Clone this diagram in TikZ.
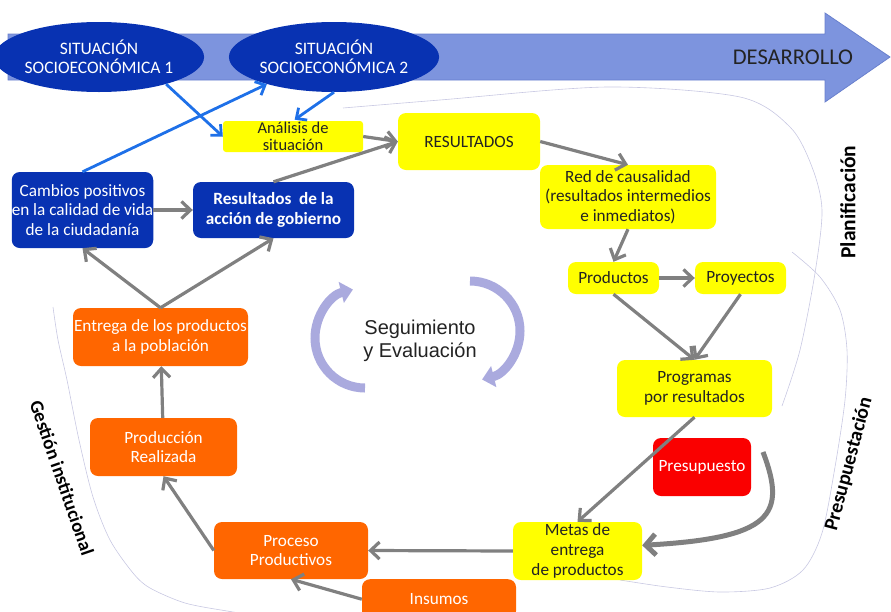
\documentclass[tikz,border=0pt]{standalone}
\usepackage{fontspec}
\setmainfont{Carlito}
\newfontfamily\arialfont{Liberation Sans}
\usepackage{tikz}
\usetikzlibrary{arrows.meta,shapes.geometric}
\definecolor{darkblue}{RGB}{8,50,178}
\definecolor{arrowblue}{RGB}{30,112,232}
\definecolor{arrowgray}{RGB}{128,128,128}
\definecolor{boxyellow}{RGB}{255,255,0}
\definecolor{boxorange}{RGB}{255,102,0}
\definecolor{boxred}{RGB}{250,0,0}
\definecolor{devblue}{RGB}{125,148,222}
\definecolor{devedge}{RGB}{105,128,205}
\definecolor{textgray}{RGB}{35,35,35}
\definecolor{cyclelav}{RGB}{170,170,222}
\definecolor{guidelav}{RGB}{200,200,226}

\begin{document}
\begin{tikzpicture}[x=1pt,y=-1pt,
    >={Straight Barb[length=9pt,width=17pt]},
    sz/.style 2 args={minimum width=#1pt, minimum height=#2pt},
    box/.style={rounded corners=8pt, align=center, inner sep=0pt,
      font=\fontsize{17.2}{19.5}\selectfont},
    yellowbox/.style={box, fill=boxyellow, text=textgray},
    orangebox/.style={box, fill=boxorange, text=white},
    bluebox/.style={box, fill=darkblue, text=white},
    situ/.style={ellipse, fill=darkblue, text=white, sz={182}{70},
      inner sep=0pt, align=center, font=\fontsize{17.5}{19}\selectfont},
    flow/.style={->, draw=arrowgray, line width=3.2pt},
    blueflow/.style={->, draw=arrowblue, line width=2.8pt,
      >={Straight Barb[length=8pt,width=15pt]}},
    guide/.style={draw=guidelav, line width=0.6pt},
    cyclearrow/.style={draw=cyclelav, line width=9pt,
      -{Triangle[length=12pt,width=21pt]}},
    phase/.style={font=\fontsize{19}{21}\selectfont\bfseries, text=black}]
  \useasboundingbox (0,0) rectangle (891,611);

  % thin phase outlines
  \draw[guide] plot[smooth] coordinates {(343,108) (440,100) (607,87)
    (740,97) (790,127) (812,167) (822,210) (815,273) (800,350) (782,406)};
  \draw[guide] plot[smooth] coordinates {(792,252) (820,277) (840,310)
    (847,350) (845,400) (835,467) (822,533) (803,570) (770,588) (720,592)
    (667,587) (620,580)};
  \draw[guide] plot[smooth] coordinates {(53,307) (58,340) (67,380)
    (79,440) (93,497) (110,540) (133,573) (150,588) (185,603) (227,611)
    (260,616)};

  % development arrow
  \draw[fill=devblue, draw=devedge, line width=0.8pt] (8,34) -- (825,34)
    -- (825,13) -- (890,57) -- (825,102) -- (825,80) -- (8,80) -- cycle;
  \node[font=\fontsize{22.5}{24}\selectfont, text=textgray] (desarrollo)
    at (793,57) {DESARROLLO};

  \node[situ] (sit1) at (99,57) {SITUACIÓN\\SOCIOECONÓMICA 1};
  \node[situ] (sit2) at (334,57) {SITUACIÓN\\SOCIOECONÓMICA 2};

  % planning
  \node[yellowbox, rounded corners=3pt, sz={140}{31},
    font=\fontsize{16.5}{17}\selectfont] (analisis) at (293,136.5)
    {Análisis de\\situación};
  \node[yellowbox, sz={142}{57}] (resultados) at (469,141.5) {RESULTADOS};
  \node[yellowbox, sz={176}{64}] (red) at (628,197)
    {Red de causalidad\\(resultados intermedios\\e inmediatos)};
  \node[yellowbox, sz={91}{32}] (productos) at (613.5,278) {Productos};
  \node[yellowbox, sz={91}{32}] (proyectos) at (740.5,278) {Proyectos};
  \node[yellowbox, sz={155}{57}] (programas) at (694.5,388.5)
    {Programas\\por resultados};

  % budgeting
  \node[box, fill=boxred, text=white, sz={98}{58}] (presupuesto)
    at (702,467) {Presupuesto};
  \node[yellowbox, sz={129}{58}, font=\fontsize{17.2}{20}\selectfont]
    (metas) at (577.5,551) {Metas de\\entrega\\de productos};
  \coordinate (bend) at (763,452);

  % institutional management
  \node[orangebox, sz={154}{57}] (proceso) at (291,550.5)
    {Proceso\\Productivos};
  \node[orangebox, sz={154}{40}, anchor=north] (insumos) at (439,579)
    {Insumos};
  \node[orangebox, sz={147}{58}] (produccion) at (163.5,447)
    {Producción\\Realizada};
  \node[orangebox, sz={175}{58}] (entrega) at (160.5,337)
    {Entrega de los productos\\a la población};

  % results
  \node[bluebox, sz={141}{76}] (cambios) at (82.5,210)
    {Cambios positivos\\en la calidad de vida\\de la ciudadanía};
  \node[bluebox, sz={161}{56}, font=\fontsize{17.2}{19.5}\selectfont\bfseries]
    (gobierno) at (273.5,210) {Resultados\ \ de la\\acción de gobierno};

  % monitoring
  \node[font=\arialfont\fontsize{20}{23}\selectfont, align=center,
    text=textgray] (seguimiento) at (420,341) {Seguimiento\\y Evaluación};
  \draw[cyclearrow] (365,388) arc[start angle=-90, end angle=-256,
    radius=50pt];
  \draw[cyclearrow] (470,281) arc[start angle=90, end angle=-76,
    radius=50pt];

  \node[phase, rotate=90, font=\fontsize{21.5}{23}\selectfont\bfseries]
    (planif) at (848,202) {Planificación};
  \node[phase, rotate=75, font=\fontsize{20}{22}\selectfont\bfseries]
    (presup) at (849,464) {Presupuestación};
  \node[phase, rotate=-71] (gestion) at (62,478) {Gestión institucional};

  % connectors
  \draw[blueflow] (sit1.-22) to (analisis.west);
  \draw[blueflow] (cambios.north) to (sit2.-158);
  \draw[blueflow, shorten >=2pt] (sit2.south) to (analisis.north);

  \draw[flow] (analisis.east) to (resultados.west);
  \draw[flow] (gobierno.north) to (resultados.west);
  \draw[flow] (resultados.east) to (red.north);
  \draw[flow] (red.south) to (productos.north);
  \draw[flow] (productos) to (proyectos);
  \draw[flow] (productos.south) to (programas.north);
  \draw[flow] (proyectos.south) to (programas.north);
  \draw[flow] (programas.south) to (metas.north);
  \draw[->, draw=arrowgray, line width=5pt,
    >={Straight Barb[length=10pt,width=21pt]}]
    (bend) .. controls (787,515) and (772,538) .. (metas.5);
  \draw[flow] (metas.west) to (proceso.east);
  \draw[flow] (insumos.west) to (proceso.south);
  \draw[flow] (proceso.west) to (produccion.south);
  \draw[flow] (produccion) to (entrega);
  \draw[flow] (entrega.north) to (cambios.south);
  \draw[flow] (entrega.north) to (gobierno.south);
  \draw[flow] (cambios) to (gobierno);
\end{tikzpicture}
\end{document}
